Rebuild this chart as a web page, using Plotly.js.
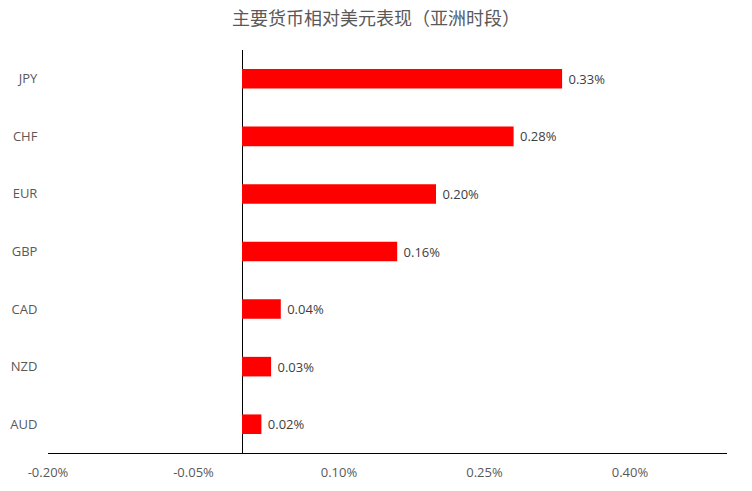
<!DOCTYPE html>
<html>
<head>
<meta charset="utf-8">
<script src="https://cdn.plot.ly/plotly-3.0.1.min.js"></script>
<style>
  body { margin: 0; background: #fff; }
  #chart { width: 752px; height: 491px; }
</style>
</head>
<body>
<div id="chart"></div>
<script>
// currencies, top to bottom
const currencies = ['JPY', 'CHF', 'EUR', 'GBP', 'CAD', 'NZD', 'AUD'];
// change vs USD, in percent
const changes = [0.33, 0.28, 0.20, 0.16, 0.04, 0.03, 0.02];
const tickVals = [-0.20, -0.05, 0.10, 0.25, 0.40];
const tickText = ['-0.20%', '-0.05%', '0.10%', '0.25%', '0.40%'];

const fontFam = '"Open Sans", "Noto Sans CJK SC", sans-serif';

var data = [{
    type: 'bar',
    orientation: 'h',
    x: changes,
    y: currencies,
    width: 0.34,
    marker: { color: '#FF0000' },
    // nbsp pads the label away from the bar end, like Excel does
    text: changes.map(v => '\u00a0' + v.toFixed(2) + '%'),
    textposition: 'outside',
    cliponaxis: false,
    textfont: { family: fontFam, size: 13, color: '#404040' },
    hoverinfo: 'none'
}];

var layout = {
    width: 752,
    height: 491,
    margin: { l: 48, r: 25, t: 50, b: 38 },
    paper_bgcolor: '#fff',
    plot_bgcolor: '#fff',
    showlegend: false,
    title: {
        text: '主要货币相对美元表现（亚洲时段）',
        font: { family: '"Noto Sans CJK SC", sans-serif', size: 18, color: '#595959' },
        x: 0.5, xanchor: 'center',
        y: 0.962, yanchor: 'middle'
    },
    xaxis: {
        range: [-0.20, 0.50],
        tickvals: tickVals,
        ticktext: tickText,
        showgrid: false,
        zeroline: true,
        zerolinecolor: '#000',
        zerolinewidth: 1,
        showline: true,
        linecolor: '#000',
        linewidth: 1,
        ticks: 'outside',
        ticklen: 7,
        tickcolor: 'rgba(0,0,0,0)',
        tickfont: { family: fontFam, size: 13, color: '#595959' },
        fixedrange: true
    },
    yaxis: {
        autorange: 'reversed',
        showgrid: false,
        zeroline: false,
        showline: false,
        ticks: 'outside',
        ticklen: 7,
        tickcolor: 'rgba(0,0,0,0)',
        tickfont: { family: fontFam, size: 13, color: '#595959' },
        fixedrange: true
    }
};

Plotly.newPlot('chart', data, layout, { displayModeBar: false, staticPlot: true });
</script>
</body>
</html>
